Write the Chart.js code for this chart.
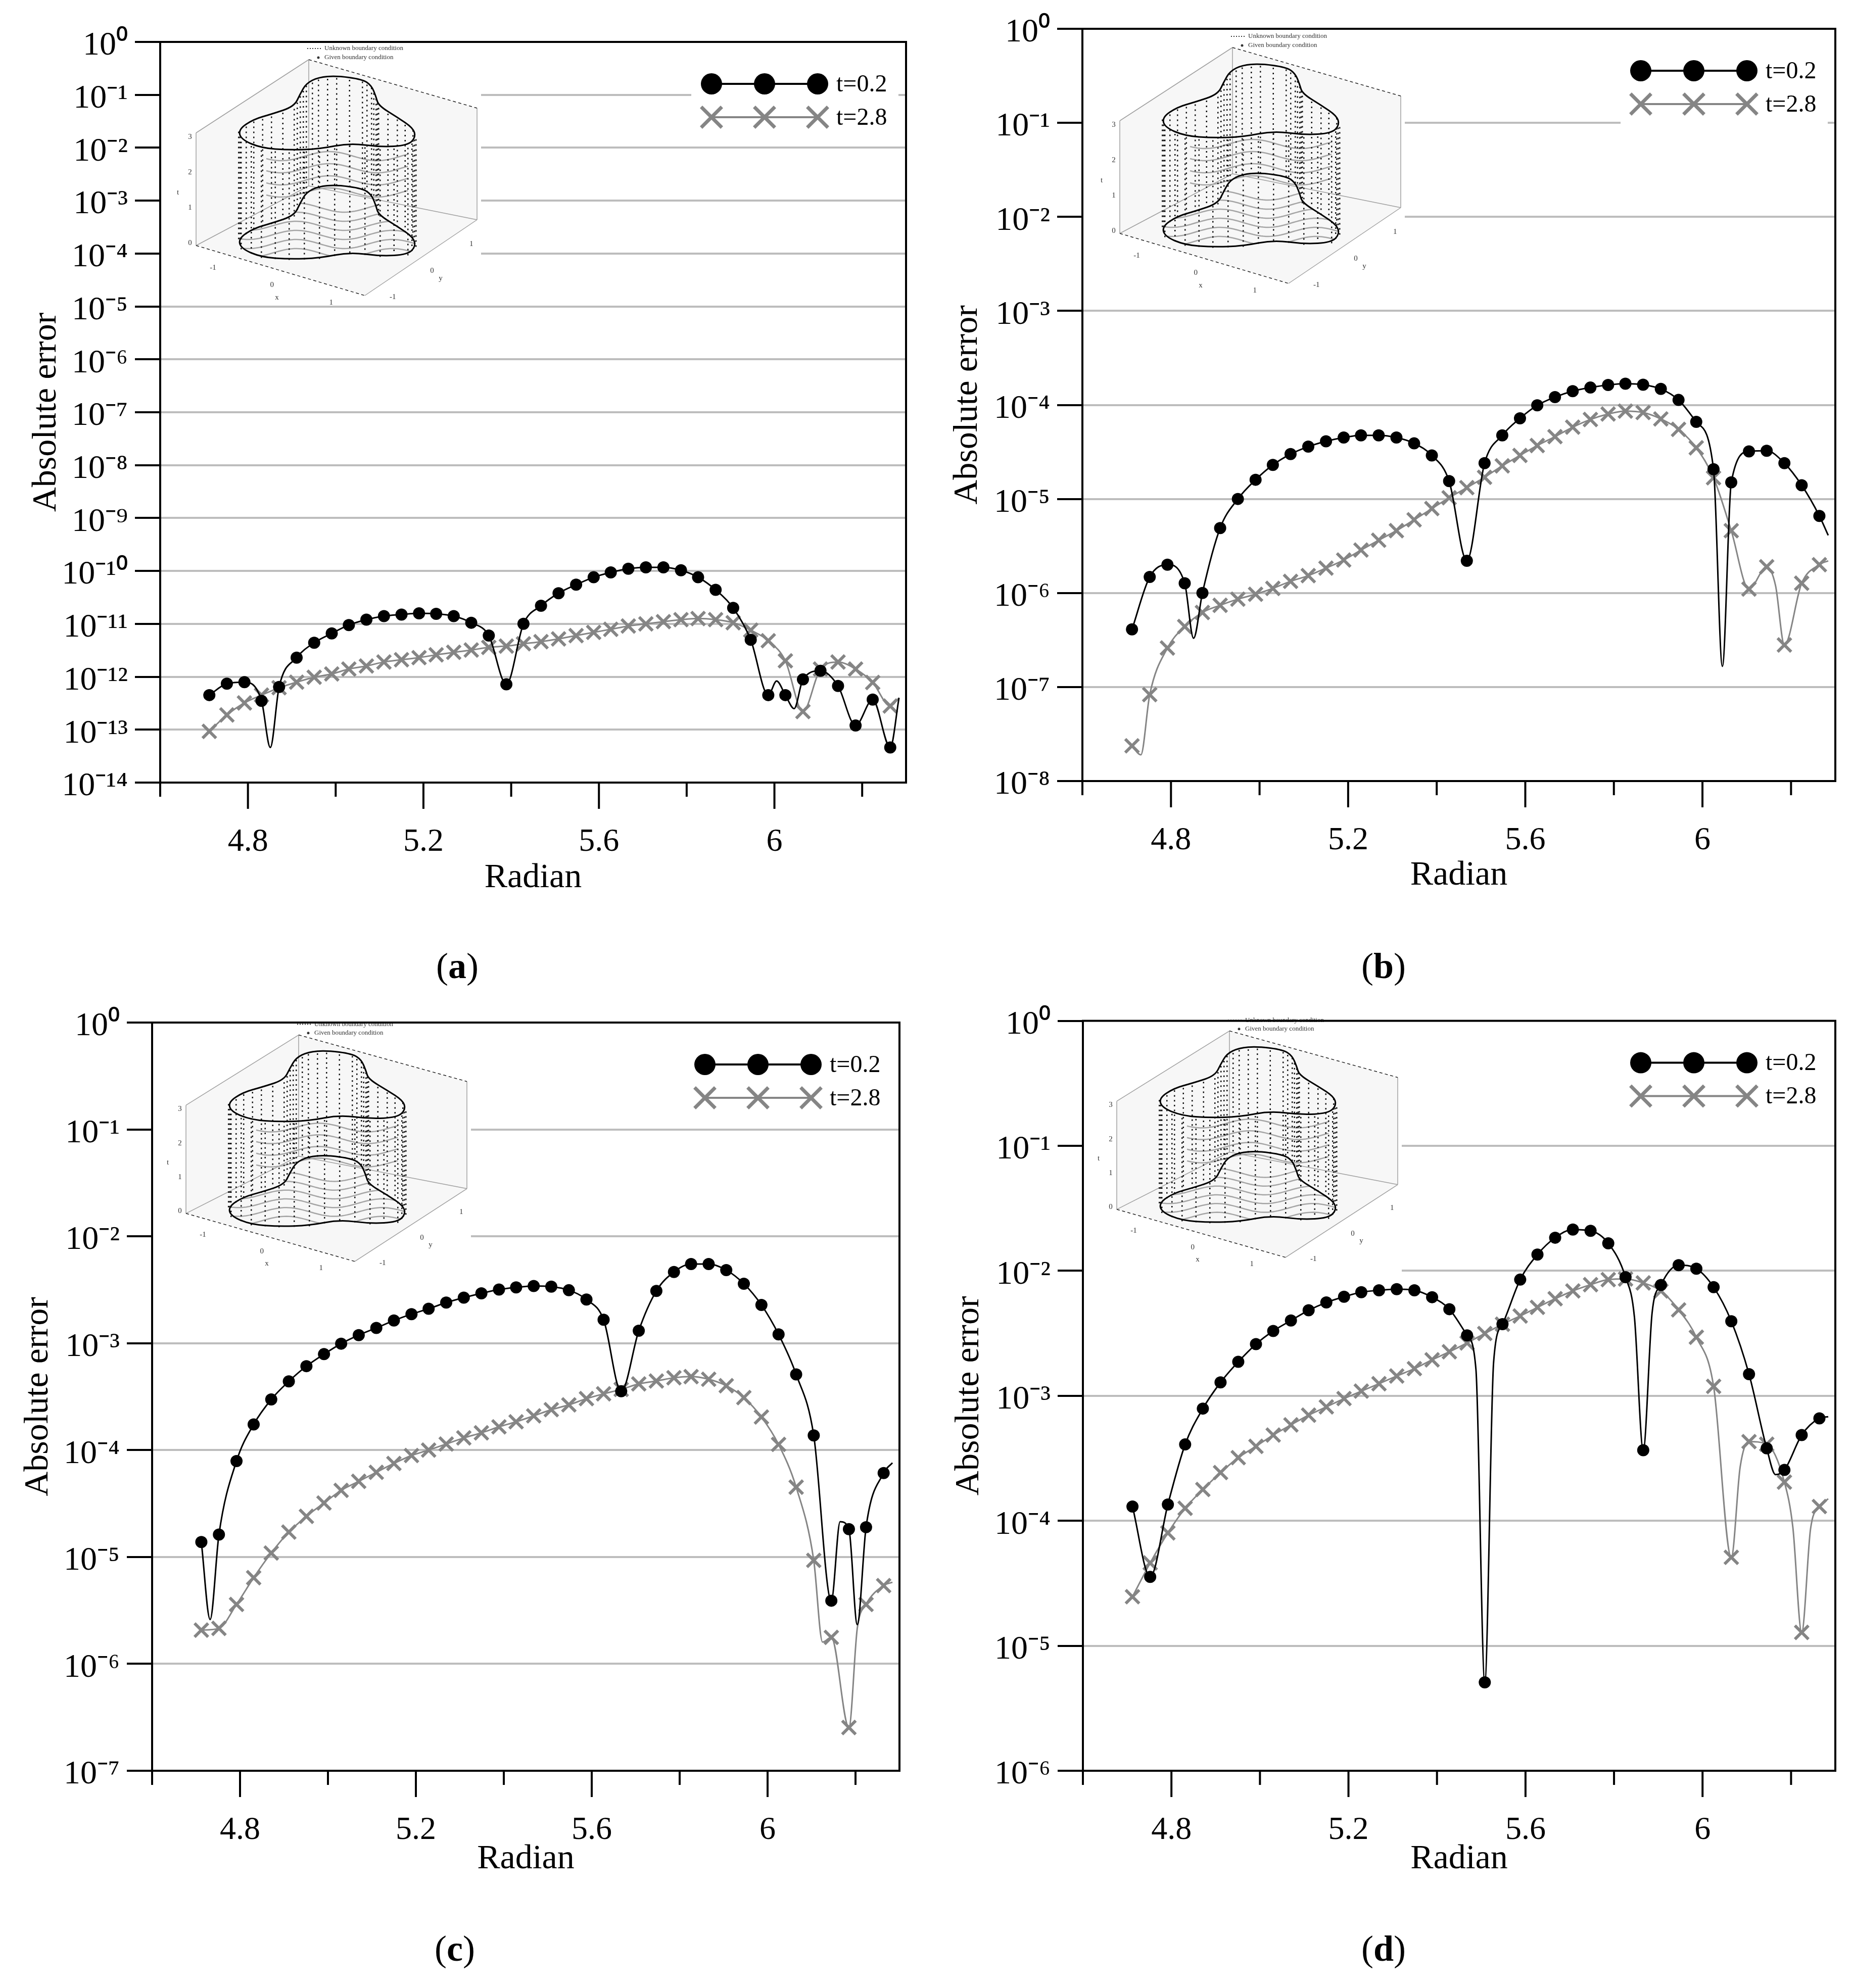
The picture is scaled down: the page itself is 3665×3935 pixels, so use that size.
<!DOCTYPE html>
<html>
<head>
<meta charset="utf-8">
<script src="https://cdn.jsdelivr.net/npm/chart.js@4.4.0/dist/chart.umd.min.js"></script>
<style>
html, body { margin: 0; padding: 0; background: #fff; }
body { width: 3665px; height: 3935px; position: relative; overflow: hidden; font-family: "Liberation Serif", "Times New Roman", serif; }
canvas { position: absolute; }
.sub { position: absolute; font-size: 72px; color: #000; transform: translate(-50%, -50%); white-space: nowrap; }
</style>
</head>
<body>
<canvas id="pa" width="1832" height="1850" style="left:0px;top:0px"></canvas>
<canvas id="pb" width="1833" height="1850" style="left:1832px;top:0px"></canvas>
<canvas id="pc" width="1832" height="1850" style="left:0px;top:1967px"></canvas>
<canvas id="pd" width="1833" height="1850" style="left:1832px;top:1967px"></canvas>
<div class="sub" style="left:905px;top:1912px">(<b>a</b>)</div>
<div class="sub" style="left:2738px;top:1912px">(<b>b</b>)</div>
<div class="sub" style="left:900px;top:3857px">(<b>c</b>)</div>
<div class="sub" style="left:2738px;top:3857px">(<b>d</b>)</div>
<script>
// marker positions (radian) shared by every curve
const radian = [4.712, 4.752, 4.792, 4.831, 4.871, 4.911, 4.951, 4.991, 5.030, 5.070,
  5.110, 5.150, 5.190, 5.229, 5.269, 5.309, 5.349, 5.389, 5.428, 5.468,
  5.508, 5.548, 5.588, 5.627, 5.667, 5.707, 5.747, 5.787, 5.826, 5.866,
  5.906, 5.946, 5.986, 6.025, 6.065, 6.105, 6.145, 6.185, 6.224, 6.264];

const seriesNames = ['t=0.2', 't=2.8'];
const xTicks = [4.6, 4.8, 5.0, 5.2, 5.4, 5.6, 5.8, 6.0, 6.2];
const xLabelled = [4.8, 5.2, 5.6, 6.0];

// (a)
const errA02 = [4.5e-13, 7.4e-13, 7.9e-13, 3.5e-13, 6.4e-13, 2.3e-12, 4.4e-12, 6.6e-12, 9.5e-12, 1.2e-11,
  1.4e-11, 1.5e-11, 1.58e-11, 1.55e-11, 1.4e-11, 1.05e-11, 6.0e-12, 7.2e-13, 1.0e-11, 2.2e-11,
  3.8e-11, 5.5e-11, 7.6e-11, 9.4e-11, 1.1e-10, 1.17e-10, 1.17e-10, 1.03e-10, 7.6e-11, 4.4e-11,
  2.0e-11, 5.0e-12, 4.5e-13, 4.5e-13, 8.9e-13, 1.3e-12, 6.7e-13, 1.2e-13, 3.7e-13, 4.6e-14];
const errA28 = [9.3e-14, 1.9e-13, 3.2e-13, 4.5e-13, 6.2e-13, 7.9e-13, 9.8e-13, 1.13e-12, 1.4e-12, 1.6e-12,
  1.9e-12, 2.1e-12, 2.3e-12, 2.6e-12, 2.9e-12, 3.2e-12, 3.6e-12, 3.8e-12, 4.2e-12, 4.6e-12,
  5.2e-12, 6.0e-12, 6.9e-12, 7.9e-12, 9.1e-12, 1.0e-11, 1.1e-11, 1.2e-11, 1.26e-11, 1.2e-11,
  1.05e-11, 7.6e-12, 4.8e-12, 2.0e-12, 2.2e-13, 1.4e-12, 1.9e-12, 1.4e-12, 7.8e-13, 2.8e-13];
// points of the line between markers (no marker drawn)
const betweenA02 = [[4.851, 4.6e-14], [6.005, 8.3e-13], [6.045, 2.5e-13], [6.284, 4.0e-13]];
const betweenA28 = [[6.284, 4.0e-13]];

// (b)
const errB02 = [4.1e-7, 1.48e-6, 2.0e-6, 1.27e-6, 1.0e-6, 4.9e-6, 1.0e-5, 1.6e-5, 2.3e-5, 3.0e-5,
  3.6e-5, 4.1e-5, 4.5e-5, 4.75e-5, 4.75e-5, 4.5e-5, 3.9e-5, 2.9e-5, 1.55e-5, 2.2e-6,
  2.4e-5, 4.75e-5, 7.2e-5, 9.9e-5, 1.21e-4, 1.4e-4, 1.53e-4, 1.63e-4, 1.68e-4, 1.64e-4,
  1.48e-4, 1.13e-4, 6.6e-5, 2.07e-5, 1.5e-5, 3.2e-5, 3.25e-5, 2.4e-5, 1.4e-5, 6.6e-6];
const errB28 = [2.37e-8, 8.3e-8, 2.6e-7, 4.4e-7, 6.2e-7, 7.4e-7, 8.6e-7, 9.7e-7, 1.12e-6, 1.33e-6,
  1.53e-6, 1.84e-6, 2.24e-6, 2.86e-6, 3.64e-6, 4.6e-6, 6.0e-6, 7.9e-6, 1.03e-5, 1.32e-5,
  1.7e-5, 2.25e-5, 2.9e-5, 3.7e-5, 4.6e-5, 5.8e-5, 7.0e-5, 8.0e-5, 8.6e-5, 8.3e-5,
  7.1e-5, 5.5e-5, 3.5e-5, 1.68e-5, 4.6e-6, 1.1e-6, 1.9e-6, 2.8e-7, 1.27e-6, 2.0e-6];
const betweenB02 = [[4.851, 3.3e-7], [6.045, 1.66e-7], [6.284, 4.1e-6]];
const betweenB28 = [[4.732, 1.9e-8], [6.165, 1.2e-6], [6.284, 2.2e-6]];

// (c)
const errC02 = [1.38e-5, 1.62e-5, 7.9e-5, 1.74e-4, 2.98e-4, 4.4e-4, 6.1e-4, 7.9e-4, 9.9e-4, 1.19e-3,
  1.39e-3, 1.63e-3, 1.87e-3, 2.1e-3, 2.4e-3, 2.67e-3, 2.93e-3, 3.18e-3, 3.33e-3, 3.43e-3,
  3.38e-3, 3.13e-3, 2.56e-3, 1.66e-3, 3.55e-4, 1.31e-3, 3.08e-3, 4.64e-3, 5.5e-3, 5.5e-3,
  4.83e-3, 3.6e-3, 2.28e-3, 1.21e-3, 5.1e-4, 1.37e-4, 3.9e-6, 1.82e-5, 1.9e-5, 6.1e-5];
const errC28 = [2.07e-6, 2.15e-6, 3.6e-6, 6.4e-6, 1.09e-5, 1.71e-5, 2.4e-5, 3.2e-5, 4.2e-5, 5.1e-5,
  6.2e-5, 7.5e-5, 8.9e-5, 1.0e-4, 1.14e-4, 1.3e-4, 1.45e-4, 1.65e-4, 1.84e-4, 2.09e-4,
  2.39e-4, 2.65e-4, 3.03e-4, 3.36e-4, 3.7e-4, 4.16e-4, 4.43e-4, 4.75e-4, 4.87e-4, 4.6e-4,
  4.0e-4, 3.1e-4, 2.04e-4, 1.13e-4, 4.5e-5, 9.3e-6, 1.77e-6, 2.54e-7, 3.6e-6, 5.4e-6];
const betweenC02 = [[4.732, 2.6e-6], [6.165, 2.14e-5], [6.204, 2.33e-6], [6.284, 7.6e-5]];
const betweenC28 = [[6.125, 1.6e-6], [6.204, 2.15e-6], [6.284, 5.8e-6]];

// (d)
const errD02 = [1.3e-4, 3.56e-5, 1.35e-4, 4.08e-4, 7.9e-4, 1.28e-3, 1.87e-3, 2.59e-3, 3.3e-3, 4.0e-3,
  4.83e-3, 5.58e-3, 6.2e-3, 6.74e-3, 6.98e-3, 7.13e-3, 6.98e-3, 6.15e-3, 4.93e-3, 3.04e-3,
  5.1e-6, 3.74e-3, 8.5e-3, 1.35e-2, 1.84e-2, 2.14e-2, 2.09e-2, 1.66e-2, 8.9e-3, 3.67e-4,
  7.7e-3, 1.11e-2, 1.04e-2, 7.4e-3, 3.95e-3, 1.49e-3, 3.8e-4, 2.55e-4, 4.85e-4, 6.6e-4];
const errD28 = [2.47e-5, 4.6e-5, 8.0e-5, 1.26e-4, 1.78e-4, 2.43e-4, 3.2e-4, 3.94e-4, 4.85e-4, 5.85e-4,
  7.0e-4, 8.15e-4, 9.5e-4, 1.09e-3, 1.25e-3, 1.44e-3, 1.65e-3, 1.94e-3, 2.25e-3, 2.65e-3,
  3.15e-3, 3.74e-3, 4.35e-3, 5.1e-3, 5.98e-3, 6.9e-3, 7.74e-3, 8.5e-3, 8.6e-3, 8.0e-3,
  6.9e-3, 4.87e-3, 2.94e-3, 1.19e-3, 5.1e-5, 4.3e-4, 4.1e-4, 2.04e-4, 1.28e-5, 1.3e-4];
const betweenD02 = [[5.488, 1.63e-3], [5.528, 1.87e-3], [5.846, 4.3e-3], [5.886, 4.6e-3], [6.165, 2.34e-4], [6.284, 6.8e-4]];
const betweenD28 = [[6.085, 2.7e-4], [6.204, 8.9e-5], [6.244, 8.6e-5], [6.284, 1.5e-4]];

// lowest decade of each panel's y axis
const yLowExp = { pa: -14, pb: -8, pc: -7, pd: -6 };

Chart.defaults.font.family = '"Liberation Serif", "Times New Roman", serif';
Chart.defaults.color = '#000';

const SUP = { '-': '\u207B', '0': '\u2070', '1': '\u00B9', '2': '\u00B2', '3': '\u00B3', '4': '\u2074',
  '5': '\u2075', '6': '\u2076', '7': '\u2077', '8': '\u2078', '9': '\u2079' };
const powLabel = v => '10' + String(Math.round(Math.log10(v))).split('').map(c => SUP[c]).join('');

function series(vals, between) {
  const pts = radian.map((x, i) => ({ x: x, y: vals[i], m: true }));
  between.forEach(p => pts.push({ x: p[0], y: p[1], m: false }));
  return pts.sort((a, b) => a.x - b.x);
}

// little 3-D domain sketch shown in the upper left of every panel (outline of the top face)
const blob = [[354, 69], [405, 76], [423, 88], [432, 110], [437, 128], [474, 151], [505, 172], [511, 190],
  [495, 207], [440, 210], [380, 202], [320, 214], [260, 216], [205, 212], [165, 195], [160, 175],
  [190, 155], [225, 145], [270, 130], [282, 105], [294, 84], [318, 72]];
const LIFT = 216;

function drawInset(ctx, ox, oy, sy) {
  const X = x => ox + x, Y = y => oy + y * sy;
  const poly = (pts, close) => {
    ctx.beginPath();
    pts.forEach((p, i) => i ? ctx.lineTo(X(p[0]), Y(p[1])) : ctx.moveTo(X(p[0]), Y(p[1])));
    if (close) ctx.closePath();
  };
  const smooth = dy => {
    const n = blob.length;
    const mid = i => { const a = blob[i % n], b = blob[(i + 1) % n]; return [(a[0] + b[0]) / 2, (a[1] + b[1]) / 2 + dy]; };
    ctx.beginPath();
    let m = mid(n - 1);
    ctx.moveTo(X(m[0]), Y(m[1]));
    for (let i = 0; i < n; i++) {
      const q = mid(i);
      ctx.quadraticCurveTo(X(blob[i][0]), Y(blob[i][1] + dy), X(q[0]), Y(q[1]));
    }
    ctx.closePath();
  };
  const h = { top: [299, 37], rt: [632, 133], rb: [632, 354], bot: [410, 504], lb: [76, 405], lt: [76, 182], back: [299, 287] };
  ctx.save();
  ctx.fillStyle = '#f7f7f7';
  poly([h.lt, h.top, h.rt, h.rb, h.bot, h.lb], true);
  ctx.fill();
  ctx.strokeStyle = '#a0a0a0';
  ctx.lineWidth = 1.5;
  [[h.lt, h.top], [h.top, h.back], [h.back, h.lb], [h.back, h.rb], [h.rt, h.rb], [h.lt, h.lb], [h.bot, h.rb]]
    .forEach(s => { poly(s); ctx.stroke(); });
  ctx.strokeStyle = '#222';
  ctx.setLineDash([6, 5]);
  [[h.top, h.rt], [h.lb, h.bot]].forEach(s => { poly(s); ctx.stroke(); });
  ctx.setLineDash([]);

  // contour lines
  ctx.strokeStyle = '#a5a5a5';
  ctx.lineWidth = 2.5;
  const wave = (y0, x0, x1) => {
    ctx.beginPath();
    for (let x = x0; x <= x1; x += 5) {
      const y = y0 + 9 * Math.sin((x - x0) / 190 * 2 * Math.PI + 0.6);
      x === x0 ? ctx.moveTo(X(x), Y(y)) : ctx.lineTo(X(x), Y(y));
    }
    ctx.stroke();
  };
  [228, 252, 276, 300].forEach(y => wave(y, 215, 495));
  ctx.save();
  smooth(LIFT);
  ctx.clip();
  [330, 348, 366, 384, 402, 420].forEach(y => wave(y, 150, 520));
  ctx.restore();

  // dotted generators of the cylinder
  ctx.fillStyle = '#111';
  for (let i = 0; i < blob.length; i++) {
    const a = blob[i], b = blob[(i + 1) % blob.length];
    for (let s = 0; s < 2; s++) {
      const x = a[0] + (b[0] - a[0]) * s / 2, y = a[1] + (b[1] - a[1]) * s / 2;
      for (let yy = y + 6; yy <= y + LIFT; yy += 10) ctx.fillRect(X(x) - 1, Y(yy) - 1.5, 2.5, 3);
    }
  }
  ctx.strokeStyle = '#000';
  ctx.lineWidth = 3;
  smooth(LIFT); ctx.stroke();
  smooth(0); ctx.stroke();

  // tiny labels
  ctx.fillStyle = '#333';
  ctx.font = '13px "Liberation Serif"';
  ctx.textBaseline = 'middle';
  ctx.textAlign = 'left';
  for (let x = 296; x < 324; x += 5) ctx.fillRect(X(x), Y(14), 2, 2);
  ctx.fillText('Unknown boundary condition', X(330), Y(15));
  ctx.beginPath(); ctx.arc(X(318), Y(33), 2.5, 0, 2 * Math.PI); ctx.fill();
  ctx.fillText('Given boundary condition', X(330), Y(33));
  ctx.textAlign = 'center';
  ctx.font = '15px "Liberation Serif"';
  ['0', '1', '2', '3'].forEach((t, i) => ctx.fillText(t, X(64), Y(400 - i * 70)));
  ctx.fillText('t', X(40), Y(300));
  ['-1', '0', '1'].forEach((t, i) => {
    const u = 0.1 + i * 0.35;
    ctx.fillText(t, X(h.lb[0] + (h.bot[0] - h.lb[0]) * u), Y(h.lb[1] + (h.bot[1] - h.lb[1]) * u + 34));
  });
  ctx.fillText('x', X(236), Y(508));
  ['-1', '0', '1'].forEach((t, i) => {
    const u = 0.15 + i * 0.35;
    ctx.fillText(t, X(h.bot[0] + (h.rb[0] - h.bot[0]) * u + 22), Y(h.bot[1] + (h.rb[1] - h.bot[1]) * u + 26));
  });
  ctx.fillText('y', X(560), Y(470));
  ctx.restore();
}

// panel geometry in canvas pixels: chart area [left, top, right, bottom]
const panels = [
  { id: 'pa', area: [317, 83, 1793, 1549], t02: errA02, t28: errA28, b02: betweenA02, b28: betweenA28,
    inset: [312, 81, 1], blank: [317, 83, 952, 600], yTitle: 92, xTitle: 1738 },
  { id: 'pb', area: [310, 57, 1800, 1546], t02: errB02, t28: errB28, b02: betweenB02, b28: betweenB28,
    inset: [308, 57, 1], blank: [310, 57, 948, 578], yTitle: 83, xTitle: 1733 },
  { id: 'pc', area: [301, 57, 1780, 1538], t02: errC02, t28: errC28, b02: betweenC02, b28: betweenC28,
    inset: [292, 46, 0.96], blank: [301, 57, 932, 548], yTitle: 76, xTitle: 1713 },
  { id: 'pd', area: [311, 49, 1800, 1538], t02: errD02, t28: errD28, b02: betweenD02, b28: betweenD28,
    inset: [302, 38, 0.96], blank: [311, 49, 942, 560], yTitle: 86, xTitle: 1713 }
];

const decor = {
  id: 'decor',
  beforeDatasetsDraw(chart, args, opts) {
    const ctx = chart.ctx, a = chart.chartArea, p = opts.panel;
    ctx.save();
    ctx.fillStyle = '#fff';
    ctx.fillRect(p.blank[0] + 2, p.blank[1] + 2, p.blank[2] - p.blank[0] - 2, p.blank[3] - p.blank[1] - 2);
    drawInset(ctx, p.inset[0], p.inset[1], p.inset[2]);
    // legend with three markers per entry
    ctx.fillStyle = '#fff';
    ctx.fillRect(a.right - 425, a.top + 45, 410, 150);
    chart.data.datasets.forEach((ds, i) => {
      const y = a.top + 83 + i * 66;
      ctx.strokeStyle = ds.borderColor;
      ctx.lineWidth = 4;
      ctx.beginPath(); ctx.moveTo(a.right - 385, y); ctx.lineTo(a.right - 175, y); ctx.stroke();
      const round = ds.pointStyle === 'circle';
      [-385, -280, -175].forEach(dx => {
        ctx.fillStyle = ds.borderColor;
        ctx.strokeStyle = ds.borderColor;
        ctx.lineWidth = round ? 0 : 7;
        Chart.helpers.drawPoint(ctx, { pointStyle: ds.pointStyle, radius: round ? 21 : 29, borderWidth: round ? 0 : 7, rotation: 0 }, a.right + dx, y);
      });
      ctx.fillStyle = '#000';
      ctx.font = '48px "Liberation Serif"';
      ctx.textAlign = 'left';
      ctx.textBaseline = 'middle';
      ctx.fillText(ds.label, a.right - 138, y + 2);
    });
    ctx.restore();
  },
  afterDraw(chart) {
    const ctx = chart.ctx, a = chart.chartArea, xs = chart.scales.x;
    ctx.save();
    ctx.strokeStyle = '#000';
    ctx.lineWidth = 4;
    ctx.strokeRect(a.left, a.top, a.right - a.left, a.bottom - a.top);
    xTicks.forEach(v => {
      const px = xs.getPixelForValue(v);
      const len = xLabelled.some(l => Math.abs(l - v) < 1e-6) ? 52 : 28;
      ctx.beginPath(); ctx.moveTo(px, a.bottom); ctx.lineTo(px, a.bottom + len); ctx.stroke();
    });
    ctx.restore();
  }
};

panels.forEach(p => {
  const cv = document.getElementById(p.id);
  const W = cv.width, H = cv.height;
  const [L, T, R, B] = p.area;
  const lowExp = yLowExp[p.id];
  new Chart(cv, {
    type: 'line',
    data: {
      datasets: [
        { label: seriesNames[0], data: series(p.t02, p.b02), borderColor: '#000', backgroundColor: '#000',
          borderWidth: 3, pointStyle: 'circle', pointRadius: c => (c.raw && c.raw.m ? 12 : 0),
          pointBorderWidth: 0, pointBackgroundColor: '#000', cubicInterpolationMode: 'monotone' },
        { label: seriesNames[1], data: series(p.t28, p.b28), borderColor: '#858585', backgroundColor: '#858585',
          borderWidth: 3, pointStyle: 'crossRot', pointRadius: c => (c.raw && c.raw.m ? 19 : 0),
          pointBorderWidth: 6, pointBorderColor: '#858585', cubicInterpolationMode: 'monotone' }
      ]
    },
    options: {
      responsive: false,
      animation: false,
      devicePixelRatio: 1,
      events: [],
      layout: { padding: { left: 0, top: T, right: W - R, bottom: 0 } },
      plugins: { legend: { display: false }, tooltip: { enabled: false }, decor: { panel: p } },
      scales: {
        x: {
          type: 'linear', min: 4.6, max: 6.3,
          afterFit: s => { s.height = H - B; },
          afterBuildTicks: s => { s.ticks = xTicks.map(v => ({ value: v })); },
          grid: { display: false, drawTicks: false },
          border: { display: true, color: '#000', width: 4 },
          ticks: {
            autoSkip: false, maxRotation: 0, padding: 80, color: '#000', font: { size: 64 },
            callback: v => xLabelled.some(l => Math.abs(l - v) < 1e-6) ? (Math.abs(v - Math.round(v)) < 1e-6 ? String(Math.round(v)) : v.toFixed(1)) : ''
          },
          title: { display: true, text: 'Radian', color: '#000', font: { size: 68 }, padding: { top: 0, bottom: H - p.xTitle - 40.8 } }
        },
        y: {
          type: 'logarithmic', min: Math.pow(10, lowExp), max: 1,
          afterFit: s => { s.width = L; },
          afterBuildTicks: s => {
            const t = [];
            for (let e = lowExp; e <= 0; e++) t.push({ value: Math.pow(10, e) });
            s.ticks = t;
          },
          grid: {
            color: c => (c.tick && c.tick.value >= 0.999 ? 'rgba(0,0,0,0)' : '#bdbdbd'),
            lineWidth: 4, drawTicks: true, tickLength: 50, tickColor: '#000', tickWidth: 4
          },
          border: { display: true, color: '#000', width: 4 },
          ticks: { autoSkip: false, padding: 14, labelOffset: 8, color: '#000', font: { size: 66 }, callback: v => powLabel(v) },
          title: { display: true, text: 'Absolute error', color: '#000', font: { size: 68 }, padding: { top: p.yTitle - 40.8, bottom: 0 } }
        }
      }
    },
    plugins: [decor]
  });
});
</script>
</body>
</html>
